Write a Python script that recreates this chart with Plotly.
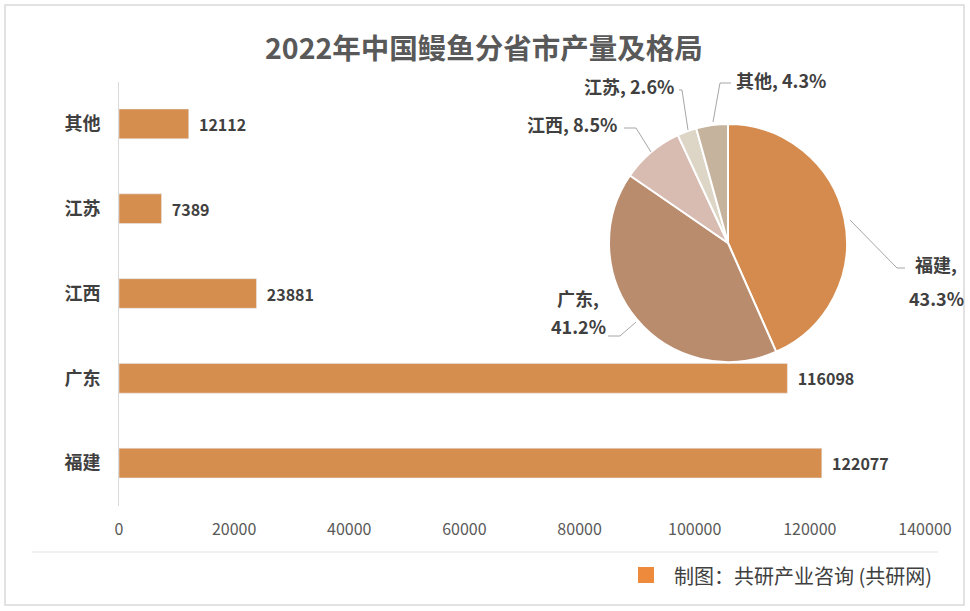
import plotly.graph_objects as go

# 2022 eel output by province (tonnes)
provinces = ["福建", "广东", "江西", "江苏", "其他"]
output_t = [122077, 116098, 23881, 7389, 12112]
share_pct = ["43.3%", "41.2%", "8.5%", "2.6%", "4.3%"]
x_ticks = [0, 20000, 40000, 60000, 80000, 100000, 120000, 140000]

bar_color = "#D68E4E"
pie_colors = ["#D48B4D", "#BA8C6E", "#D8BCB2", "#DDD6C6", "#C5B39E"]
font_cn = "Noto Sans CJK SC"
dark = "#404040"

W, H = 970, 611


def px(x):
    return x / W


def py(y):
    return 1 - y / H


fig = go.Figure()

fig.add_trace(
    go.Bar(
        x=output_t,
        y=provinces,
        orientation="h",
        width=0.35,
        marker_color=bar_color,
        texttemplate="  %{x}",
        textposition="outside",
        textfont=dict(family=font_cn, size=16, color=dark, weight="bold"),
        cliponaxis=False,
        showlegend=False,
    )
)

fig.add_trace(
    go.Pie(
        labels=provinces,
        values=output_t,
        sort=False,
        direction="clockwise",
        rotation=0,
        textinfo="none",
        marker=dict(colors=pie_colors, line=dict(color="white", width=2)),
        domain=dict(x=[px(609), px(847)], y=[py(362), py(124)]),
        showlegend=False,
    )
)

# pie labels: (text, x, y, xanchor)
fj, gd, jx, js, qt = range(5)
pie_text = [
    (f"{provinces[fj]},", 936, 264, "center"),
    (share_pct[fj], 936, 298, "center"),
    (f"{provinces[gd]},", 578, 298, "center"),
    (share_pct[gd], 578, 326, "center"),
    (f"{provinces[jx]}, {share_pct[jx]}", 619, 124, "right"),
    (f"{provinces[js]}, {share_pct[js]}", 676, 86, "right"),
    (f"{provinces[qt]}, {share_pct[qt]}", 734, 80, "left"),
]
annotations = [
    dict(
        text=t, x=px(x), y=py(y), xref="paper", yref="paper",
        xanchor=xa, yanchor="middle", showarrow=False,
        font=dict(family=font_cn, size=18, color=dark, weight="bold"),
    )
    for t, x, y, xa in pie_text
]

annotations.append(
    dict(
        text="2022年中国鳗鱼分省市产量及格局",
        x=px(484), y=py(47), xref="paper", yref="paper",
        xanchor="center", yanchor="middle", showarrow=False,
        font=dict(family=font_cn, size=28.5, color="#595959", weight="bold"),
    )
)
annotations.append(
    dict(
        text="制图：共研产业咨询 (共研网)",
        x=px(672), y=py(575), xref="paper", yref="paper",
        xanchor="left", yanchor="middle", showarrow=False,
        font=dict(family=font_cn, size=20, color=dark),
    )
)


def path(points):
    return "M " + " L ".join(f"{px(x)},{py(y)}" for x, y in points)


leaders = [
    [(905, 268), (897, 268), (850, 220)],
    [(608, 336), (620, 336), (636, 322)],
    [(624, 128), (636, 128), (651, 152)],
    [(679, 90), (682, 90), (688, 130)],
    [(731, 83), (720, 83), (713, 122)],
]
shapes = [
    dict(type="path", xref="paper", yref="paper", path=path(p),
         line=dict(color="#A6A6A6", width=1))
    for p in leaders
]
shapes += [
    dict(type="rect", xref="paper", yref="paper",
         x0=px(5), x1=px(964), y0=py(605), y1=py(5),
         line=dict(color="#D9D9D9", width=1.5)),
    dict(type="line", xref="paper", yref="paper",
         x0=px(32), x1=px(938), y0=py(552), y1=py(552),
         line=dict(color="#E3E3E3", width=1)),
    dict(type="rect", xref="paper", yref="paper",
         x0=px(638), x1=px(654), y0=py(583), y1=py(567),
         fillcolor="#EE8A3C", line=dict(width=0)),
]

fig.update_layout(
    width=W,
    height=H,
    autosize=False,
    margin=dict(l=0, r=0, t=0, b=0),
    paper_bgcolor="white",
    plot_bgcolor="white",
    font=dict(family=font_cn),
    xaxis=dict(
        domain=[px(119), px(925)],
        range=[0, 140000],
        tickvals=x_ticks,
        tickformat="d",
        showgrid=False,
        zeroline=False,
        showline=False,
        ticks="",
        automargin=False,
        ticklabelstandoff=12,
        tickfont=dict(size=16, color="#595959"),
    ),
    yaxis=dict(
        domain=[py(505.5), py(81.5)],
        range=[-0.5, 4.5],
        showgrid=False,
        zeroline=False,
        showline=True,
        linecolor="#D9D9D9",
        linewidth=1,
        ticks="",
        automargin=False,
        ticklabelstandoff=14,
        tickfont=dict(size=18, color=dark, weight="bold"),
    ),
    annotations=annotations,
    shapes=shapes,
)

fig.write_html(
    "out.html",
    config={"responsive": False, "displayModeBar": False},
    post_script="document.body.style.margin='0';document.body.style.overflow='hidden';",
)
